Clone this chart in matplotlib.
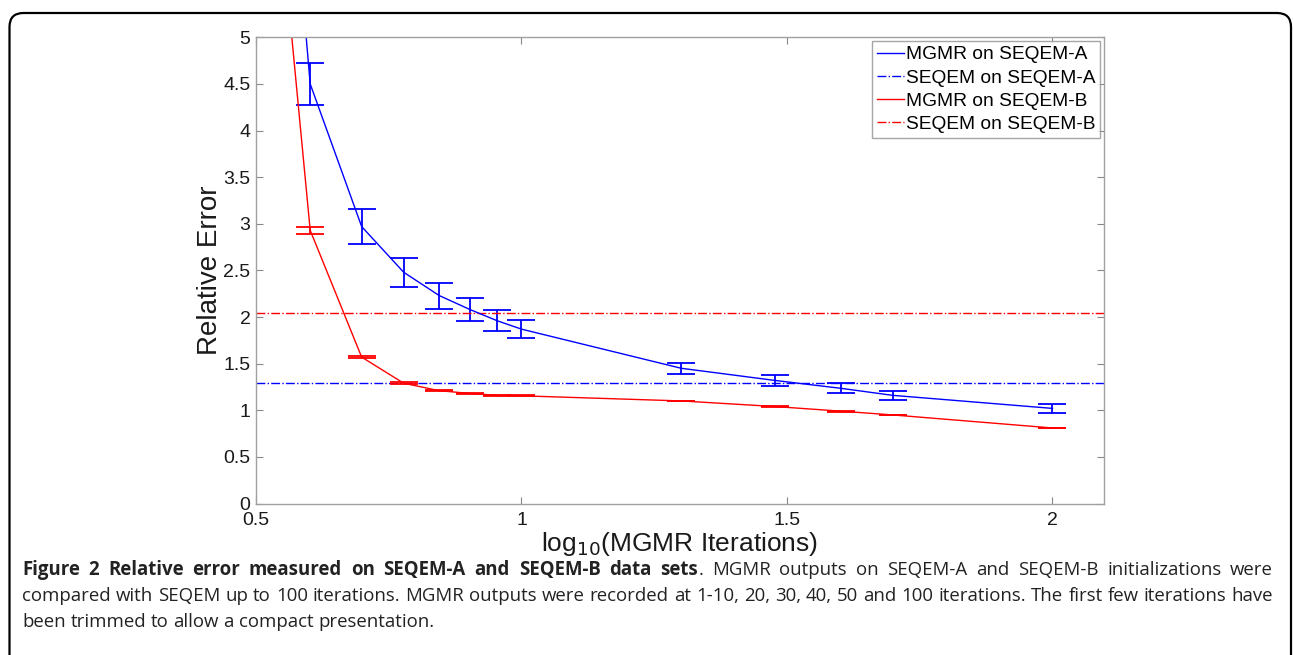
import numpy as np
import matplotlib
matplotlib.use("Agg")
import matplotlib.pyplot as plt
from matplotlib.patches import FancyBboxPatch
from matplotlib.lines import Line2D

# data (log10 of iterations 3-10, 20, 30, 40, 50, 100)
iterations = [3, 4, 5, 6, 7, 8, 9, 10, 20, 30, 40, 50, 100]
mgmr_a = [12.8, 4.50, 2.97, 2.48, 2.23, 2.08, 1.96, 1.87, 1.45, 1.32, 1.235, 1.16, 1.02]
mgmr_a_err = [0.30, 0.225, 0.185, 0.155, 0.14, 0.12, 0.11, 0.10, 0.06, 0.055, 0.055, 0.045, 0.05]
mgmr_b = [10.4, 2.93, 1.57, 1.29, 1.21, 1.18, 1.16, 1.155, 1.10, 1.04, 0.99, 0.95, 0.81]
mgmr_b_err = [0.05, 0.035, 0.012, 0.008, 0.006, 0.005, 0.005, 0.005, 0.004, 0.004, 0.004, 0.004, 0.004]
seqem_a = 1.29
seqem_b = 2.045
legend_labels = ["MGMR on SEQEM-A", "SEQEM on SEQEM-A", "MGMR on SEQEM-B", "SEQEM on SEQEM-B"]

x = np.log10(iterations)

plt.rcParams["font.family"] = ["Liberation Sans", "DejaVu Sans"]

fig = plt.figure(figsize=(12.93, 6.55), dpi=100)
W, H = 1293, 655
ax = fig.add_axes([256 / W, 1 - 503.5 / H, (1104 - 256) / W, (503.5 - 37.3) / H])

ax.errorbar(x, mgmr_a, yerr=mgmr_a_err, color="blue", lw=1.0, elinewidth=1.3,
            capsize=10, capthick=1.3)
ax.axhline(seqem_a, color="blue", lw=1.0, ls="-.")
ax.errorbar(x, mgmr_b, yerr=mgmr_b_err, color="red", lw=1.0, elinewidth=1.3,
            capsize=10, capthick=1.3)
ax.axhline(seqem_b, color="red", lw=1.0, ls="-.")

ax.set_xlim(0.5, 2.097)
ax.set_ylim(0, 5)
ax.set_xticks([0.5, 1, 1.5, 2])
ax.set_xticklabels(["0.5", "1", "1.5", "2"])
ax.set_yticks(np.arange(0, 5.01, 0.5))
ax.set_yticklabels(["0", "0.5", "1", "1.5", "2", "2.5", "3", "3.5", "4", "4.5", "5"])
ax.tick_params(direction="in", length=5, width=0.8, color="#888888", labelsize=14,
               top=True, right=True, labelcolor="#1a1a1a")
ax.tick_params(axis="x", pad=6)
ax.tick_params(axis="y", pad=4)
for s in ax.spines.values():
    s.set_color("#a0a0a0")
    s.set_linewidth(1.0)

ax.set_ylabel("Relative Error", fontsize=20, color="#1a1a1a", labelpad=0)
ax.set_xlabel(r"log$_{10}$(MGMR Iterations)", fontsize=19, color="#1a1a1a", labelpad=1)

leg_handles = [Line2D([], [], color="blue", lw=1), Line2D([], [], color="blue", lw=1, ls="-."),
               Line2D([], [], color="red", lw=1), Line2D([], [], color="red", lw=1, ls="-.")]
leg = ax.legend(leg_handles, legend_labels, loc="upper right", fontsize=13.8, frameon=True,
                fancybox=False, borderaxespad=0.2, handlelength=1.4, handletextpad=0.1,
                labelspacing=0.3, borderpad=0.25)
leg.get_frame().set_edgecolor("#909090")
leg.get_frame().set_linewidth(1.0)

# outer rounded frame
frame = FancyBboxPatch((9.5, -30), 1281.5, 642 + 30, boxstyle="round,pad=0,rounding_size=14",
                       transform=None, fill=False, edgecolor="black", lw=1.6)
fig.patches.append(frame)

# caption, justified
cap_font = ["Open Sans", "DejaVu Sans"]
cap_size = 13.4
lines = [
    [[("Figure", True)], [("2", True)], [("Relative", True)], [("error", True)], [("measured", True)],
     [("on", True)], [("SEQEM-A", True)], [("and", True)], [("SEQEM-B", True)], [("data", True)],
     [("sets", True), (".", False)]] +
    [[(w, False)] for w in "MGMR outputs on SEQEM-A and SEQEM-B initializations were".split()],
    [[(w, False)] for w in ("compared with SEQEM up to 100 iterations. MGMR outputs were recorded at "
                            "1-10, 20, 30, 40, 50 and 100 iterations. The first few iterations have").split()],
    [[(w, False)] for w in "been trimmed to allow a compact presentation.".split()],
]
line_y = [570, 596, 622]
x0, x1 = 22, 1273
renderer = fig.canvas.get_renderer()


def make(s, bold, xp, yp):
    return fig.text(xp / W, 1 - yp / H, s, fontsize=cap_size, family=cap_font,
                    weight="bold" if bold else "normal", color="#222222", va="center", ha="left")


for li, (words, yp) in enumerate(zip(lines, line_y)):
    texts = []
    widths = []
    for word in words:
        parts = []
        wsum = 0
        for s, b in word:
            t = make(s, b, 0, yp)
            bb = t.get_window_extent(renderer)
            parts.append((t, bb.width))
            wsum += bb.width
        texts.append(parts)
        widths.append(wsum)
    if li < len(lines) - 1:
        gap = (x1 - x0 - sum(widths)) / (len(words) - 1)
    else:
        gap = 4.8
    xp = x0
    for parts, wsum in zip(texts, widths):
        xx = xp
        for t, w in parts:
            t.set_x(xx / W)
            xx += w
        xp += wsum + gap

fig.savefig("out.png", dpi=100)
